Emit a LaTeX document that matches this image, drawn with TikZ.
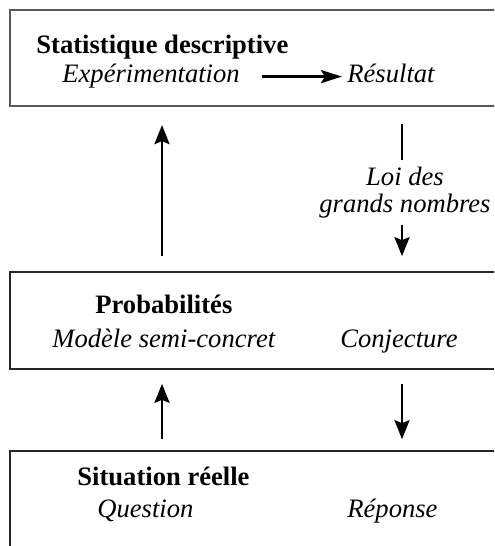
\documentclass[tikz,border=0pt]{standalone}
\usepackage{fontspec}
\setmainfont{Liberation Serif}
\usepackage{tikz}
\usetikzlibrary{arrows.meta}
\tikzstyle{scheme}=[x=0.5pt, y=-0.5pt]
\tikzstyle{topbox}=[rectangle, draw=black!65, line width=1.1pt, minimum width=260pt, inner sep=0pt]
\tikzstyle{box}=[rectangle, draw=black!85, line width=0.8pt, minimum width=260pt, inner sep=0pt]
\tikzstyle{title}=[anchor=base west, inner sep=0pt, font=\fontsize{13.3}{14}\selectfont\bfseries]
\tikzstyle{item}=[anchor=base west, inner sep=0pt, font=\fontsize{13.3}{14}\selectfont\itshape]
\tikzstyle{law}=[anchor=base, inner sep=0pt, font=\fontsize{13.3}{14}\selectfont\itshape]
\tikzstyle{edge}=[-{Stealth[length=9.5pt, width=7.5pt, inset=1.5pt]}, line width=1.35pt]
\tikzstyle{hedge}=[-{Stealth[length=10.5pt, width=6.5pt, inset=2pt]}, line width=1.3pt]
\tikzstyle{wedge}=[-, line width=1.35pt]

\begin{document}
\begin{tikzpicture}[scheme]
	\clip (0,0) rectangle (494,546);
	
	%The boxes
	\draw (270,58) node[topbox, minimum height=48pt] (stat) {};
	\draw (270,320.5) node[box, minimum height=48.5pt] (proba) {};
	\draw (270,525.5) node[box, minimum height=74.5pt] (reel) {};
	
	%The top box
	\draw (36,53) node[title] (t-stat) {Statistique descriptive};
	\draw (62,82) node[item] (exp) {Expérimentation};
	\draw (347,82) node[item] (res) {Résultat};
	\draw[hedge, shorten <=11pt, shorten >=2.5pt] ([yshift=2.7pt]exp.base east) -- ([yshift=2.7pt]res.base west);
	
	%The middle box
	\draw (95,313) node[title] (t-proba) {Probabilités};
	\draw (52,347) node[item] (model) {Modèle semi-concret};
	\draw (340,347) node[item] (conj) {Conjecture};
	
	%The bottom box
	\draw (77,485) node[title] (t-reel) {Situation réelle};
	\draw (97,517) node[item] (quest) {Question};
	\draw (347,517) node[item] (rep) {Réponse};
	
	%The law label
	\draw (405,185) node[law] (law1) {Loi des};
	\draw (405,212) node[law] (law2) {grands nombres};
	
	%The arrows between the boxes
	\coordinate (left) at (162,0);
	\coordinate (right) at (402,0);
	\draw[edge, shorten <=7.5pt, shorten >=9pt] (proba.north -| left) -- (stat.south -| left);
	\draw[wedge, shorten <=8.5pt] (stat.south -| right) -- ([yshift=3pt]law1.north -| right);
	\draw[edge, shorten <=3.5pt, shorten >=7.5pt] (law2.south -| right) -- (proba.north -| right);
	\draw[edge, shorten <=5.5pt, shorten >=7pt] (reel.north -| left) -- (proba.south -| left);
	\draw[edge, shorten <=7pt, shorten >=5.5pt] (proba.south -| right) -- (reel.north -| right);
\end{tikzpicture}
\end{document}
